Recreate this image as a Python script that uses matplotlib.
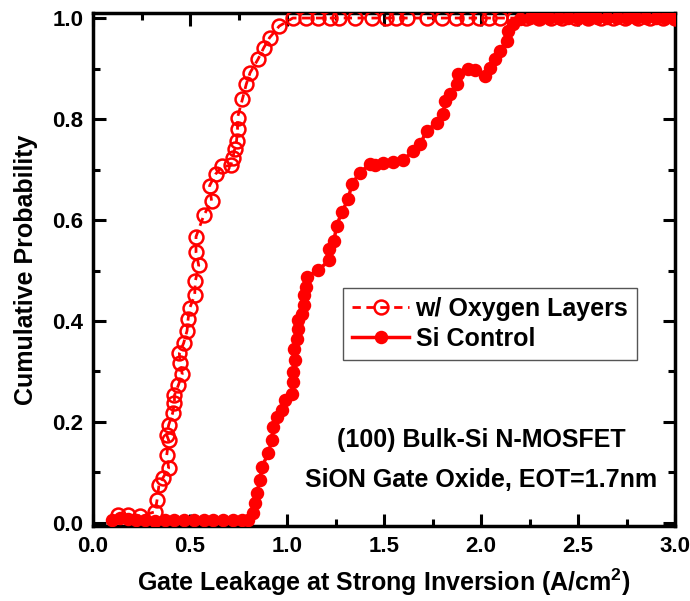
import matplotlib
matplotlib.use("Agg")
import matplotlib.pyplot as plt
from matplotlib.ticker import MultipleLocator

plt.rcParams['font.family'] = ['Liberation Sans', 'DejaVu Sans']
plt.rcParams['font.weight'] = 'bold'
plt.rcParams['mathtext.fontset'] = 'custom'
plt.rcParams['mathtext.bf'] = 'Liberation Sans:bold'
plt.rcParams['mathtext.rm'] = 'Liberation Sans'

# w/ Oxygen Layers (open circles, dashed)
oxy_x = [0.13, 0.18, 0.24, 0.32, 0.33, 0.34, 0.36, 0.39, 0.38, 0.39, 0.38, 0.39,
         0.41, 0.42, 0.42, 0.44, 0.46, 0.45, 0.445, 0.467, 0.485, 0.49, 0.498, 0.524,
         0.528, 0.545, 0.531, 0.531, 0.571, 0.611, 0.601, 0.632, 0.666, 0.71, 0.72,
         0.73, 0.74, 0.745, 0.745, 0.77, 0.79, 0.81, 0.85, 0.88, 0.91, 0.96,
         1.03, 1.10, 1.16, 1.22, 1.27, 1.35, 1.44, 1.51, 1.56, 1.62, 1.72, 1.80,
         1.87, 1.93, 1.99, 2.04, 2.10, 2.17, 2.23, 2.30, 2.36, 2.42, 2.49, 2.55,
         2.62, 2.68, 2.74, 2.81, 2.87, 2.94, 3.00]
oxy_y = [0.016, 0.016, 0.014, 0.022, 0.045, 0.075, 0.089, 0.109, 0.134, 0.164, 0.174, 0.194,
         0.217, 0.237, 0.253, 0.273, 0.295, 0.316, 0.336, 0.356, 0.381, 0.403, 0.425, 0.451,
         0.480, 0.510, 0.536, 0.567, 0.609, 0.638, 0.668, 0.691, 0.706, 0.708, 0.722,
         0.740, 0.757, 0.780, 0.803, 0.839, 0.869, 0.892, 0.918, 0.941, 0.961, 0.984,
         1.0, 1.0, 1.0, 1.0, 1.0, 1.0, 1.0, 1.0, 1.0, 1.0, 1.0, 1.0,
         1.0, 1.0, 1.0, 1.0, 1.0, 1.0, 1.0, 1.0, 1.0, 1.0, 1.0, 1.0,
         1.0, 1.0, 1.0, 1.0, 1.0, 1.0, 1.0]

# Si Control (filled circles, solid)
si_x = [0.10, 0.14, 0.18, 0.22, 0.27, 0.32, 0.37, 0.42, 0.47, 0.52, 0.57, 0.62,
        0.67, 0.72, 0.77, 0.80, 0.826, 0.835, 0.844, 0.861, 0.870, 0.904, 0.921,
        0.929, 0.947, 0.973, 0.990, 1.024, 1.032, 1.032, 1.041, 1.036, 1.050, 1.058,
        1.058, 1.076, 1.088, 1.088, 1.098, 1.102, 1.161, 1.218, 1.218, 1.242, 1.256,
        1.282, 1.316, 1.334, 1.376, 1.428, 1.454, 1.496, 1.548, 1.599, 1.651, 1.686,
        1.720, 1.772, 1.806, 1.814, 1.840, 1.875, 1.883, 1.935, 1.969, 2.021, 2.046,
        2.072, 2.098, 2.132, 2.141, 2.166, 2.201, 2.25, 2.30, 2.35, 2.40, 2.45, 2.50,
        2.55, 2.60, 2.65, 2.70, 2.75, 2.80, 2.85, 2.90, 2.95, 3.00]
si_y = [0.005, 0.010, 0.008, 0.005, 0.005, 0.003, 0.005, 0.005, 0.005, 0.005, 0.005, 0.005,
        0.005, 0.005, 0.005, 0.005, 0.019, 0.039, 0.059, 0.085, 0.111, 0.138, 0.164,
        0.190, 0.210, 0.223, 0.243, 0.256, 0.279, 0.299, 0.322, 0.345, 0.365, 0.385,
        0.401, 0.414, 0.431, 0.451, 0.467, 0.487, 0.501, 0.520, 0.543, 0.559, 0.589,
        0.615, 0.642, 0.671, 0.694, 0.711, 0.709, 0.712, 0.714, 0.719, 0.737, 0.750,
        0.777, 0.793, 0.810, 0.836, 0.849, 0.869, 0.889, 0.899, 0.897, 0.886, 0.902,
        0.918, 0.935, 0.955, 0.974, 0.988, 0.998, 1.0, 1.0, 1.0, 1.0, 1.0, 1.0,
        1.0, 1.0, 1.0, 1.0, 1.0, 1.0, 1.0, 1.0, 1.0, 1.0]

fig = plt.figure(figsize=(6.9, 6.01), dpi=100)
ax = fig.add_axes([93/690, 1-526/601, (675-93)/690, (526-13)/601])

red = '#ff0000'
ax.plot(si_x, si_y, '-', color=red, lw=2.5, marker='o', ms=8.5,
        mfc=red, mec=red, mew=1.2, label='Si Control', zorder=3)
ax.plot(oxy_x, oxy_y, '--', color=red, lw=2, dashes=(3, 2), marker='o', ms=10,
        mfc='none', mec=red, mew=1.8, label='w/ Oxygen Layers', zorder=4)

ax.set_xlim(0, 3.0)
ax.set_ylim(-0.006, 1.01)
ax.xaxis.set_minor_locator(MultipleLocator(0.25))
ax.yaxis.set_minor_locator(MultipleLocator(0.1))
ax.set_xticks([0, 0.5, 1.0, 1.5, 2.0, 2.5, 3.0])
ax.set_xticklabels(['0.0', '0.5', '1.0', '1.5', '2.0', '2.5', '3.0'])
ax.set_yticks([0, 0.2, 0.4, 0.6, 0.8, 1.0])
ax.set_yticklabels(['0.0', '0.2', '0.4', '0.6', '0.8', '1.0'])
ax.tick_params(which='both', direction='in', top=True, right=True, width=2.2,
               labelsize=16, pad=7)
ax.tick_params(which='major', length=9)
ax.tick_params(which='minor', length=5)
for lab in ax.get_xticklabels() + ax.get_yticklabels():
    lab.set_fontweight('bold')
for s in ax.spines.values():
    s.set_linewidth(2.5)

ax.set_xlabel('Gate Leakage at Strong Inversion (A/cm$^{\\mathbf{2}}$)',
              fontsize=18, fontweight='bold', labelpad=7)
ax.set_ylabel('Cumulative Probability', fontsize=18, fontweight='bold', labelpad=10)

handles, labels = ax.get_legend_handles_labels()
leg = ax.legend(handles[::-1], labels[::-1], loc='upper left',
                bbox_to_anchor=(343/690, 1-288/601), bbox_transform=fig.transFigure,
                borderaxespad=0, fancybox=False, edgecolor='#555555',
                prop={'size': 18, 'weight': 'bold'}, handlelength=2.3,
                handletextpad=0.25, borderpad=0.35, labelspacing=0.25, framealpha=1)
leg.get_frame().set_linewidth(1.0)

ax.text(2.0, 0.164, '(100) Bulk-Si N-MOSFET', ha='center', va='center',
        fontsize=18, fontweight='bold')
ax.text(2.0, 0.085, 'SiON Gate Oxide, EOT=1.7nm', ha='center', va='center',
        fontsize=18, fontweight='bold')

fig.savefig('out.png', dpi=100)
